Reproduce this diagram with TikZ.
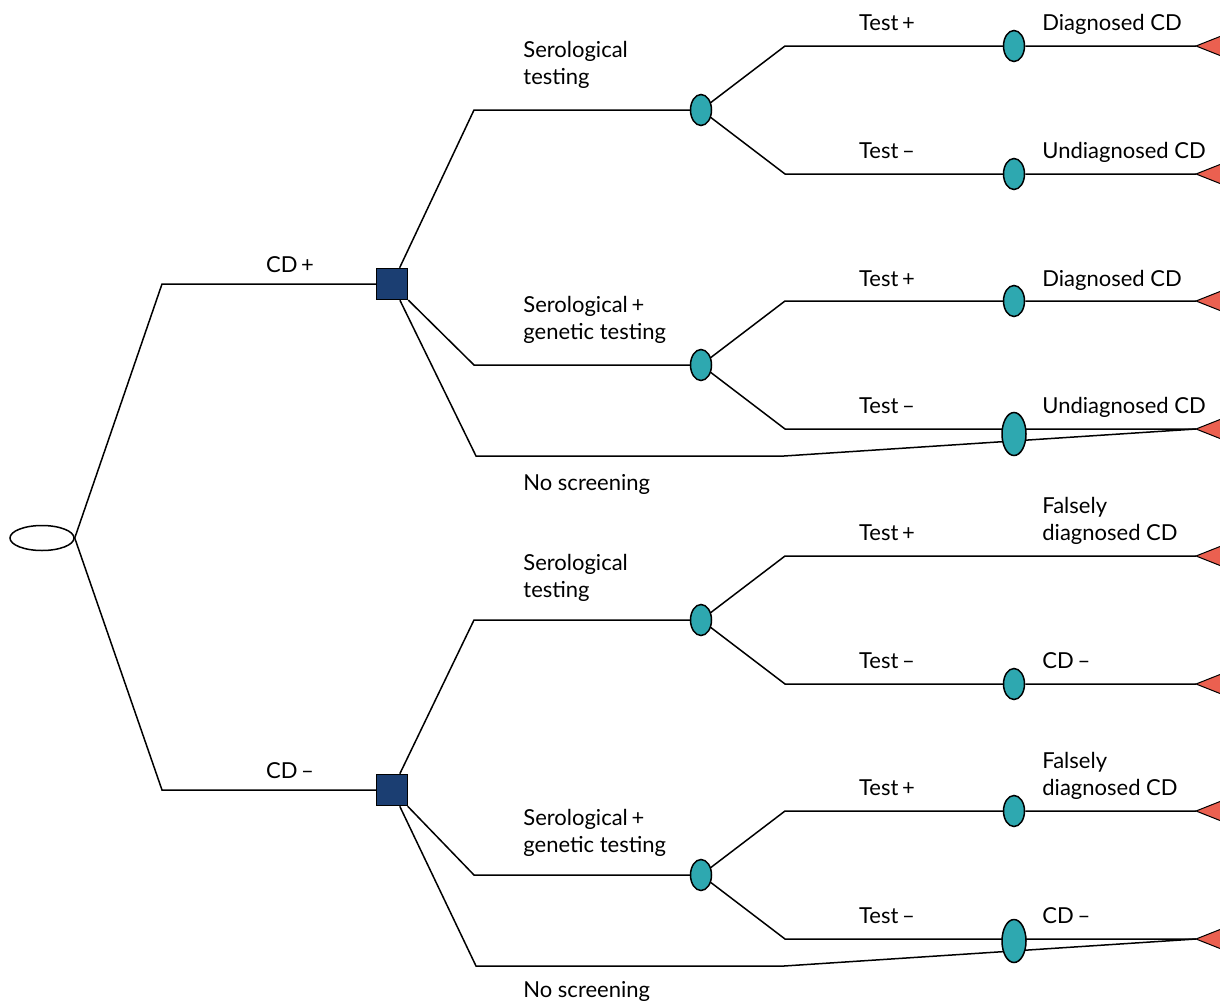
\documentclass[tikz,border=0pt]{standalone}
\usepackage{fontspec}
\setmainfont{Lato}
\usepackage{xcolor}
\usetikzlibrary{shapes.geometric}
\definecolor{chancecol}{HTML}{2EA8B0}
\definecolor{deccol}{HTML}{1B3E72}
\definecolor{payoffcol}{HTML}{EB6050}
\pgfdeclarelayer{bg}
\pgfsetlayers{bg,main}
\newcommand{\leaf}[2]{\coordinate (#1) at #2; \filldraw[fill=payoffcol,line width=0.5pt] (#1) -- ++(48,-19) -- ++(0,38) -- cycle;}
\newcommand{\pos}{\,+}
\newcommand{\nega}{\,\textendash}

\begin{document}
\begin{tikzpicture}[x=0.5pt,y=-0.5pt]
    \tikzset{startnode/.style={ellipse,draw,fill=white,line width=0.75pt,minimum width=32pt,minimum height=12.5pt,inner sep=0pt},
             decnode/.style={rectangle,draw,fill=deccol,line width=0.75pt,minimum size=15.5pt,inner sep=0pt},
             chnode/.style={ellipse,draw,fill=chancecol,line width=0.75pt,minimum width=10.5pt,minimum height=15.5pt,inner sep=0pt},
             bigch/.style={chnode,minimum width=12pt,minimum height=21.5pt},
             lbl/.style={font=\fontsize{11}{13.5}\selectfont,inner sep=0pt,anchor=base west,align=left},
             conn/.style={line width=0.75pt}}
    \useasboundingbox (0,0) rectangle (1220,1001);
    % decision and chance nodes
    \node[startnode] (start) at (42,538) {};
    \node[decnode] (cdpos) at (392,284) {};
    \node[decnode] (cdneg) at (392,790) {};
    \node[chnode] (serP) at (701,110) {};
    \node[chnode] (genP) at (701,365) {};
    \node[chnode] (serN) at (701,620) {};
    \node[chnode] (genN) at (701,875) {};
    \node[chnode] (serPpos) at (1014,46) {};
    \node[chnode] (serPneg) at (1014,174) {};
    \node[chnode] (genPpos) at (1014,301) {};
    \node[bigch] (genPneg) at (1014,434) {};
    \node[chnode] (serNneg) at (1014,684) {};
    \node[chnode] (genNpos) at (1014,811) {};
    \node[bigch] (genNneg) at (1014,941) {};
    % payoffs
    \leaf{tSerPpos}{(1196,46)}
    \leaf{tSerPneg}{(1196,174)}
    \leaf{tGenPpos}{(1196,301)}
    \leaf{tGenPneg}{(1196,429)}
    \leaf{tSerNpos}{(1196,556)}
    \leaf{tSerNneg}{(1196,684)}
    \leaf{tGenNpos}{(1196,811)}
    \leaf{tGenNneg}{(1196,939)}
    \begin{pgfonlayer}{bg}
    \draw[conn] (start.east) -- (162,284) -- (cdpos);
    \draw[conn] (start.east) -- (162,790) -- (cdneg);
    % CD+
    \draw[conn] (cdpos) -- (474,110) -- (serP);
    \draw[conn] (cdpos) -- (474,365) -- (genP);
    \draw[conn] (cdpos) -- (476,456) -- (784,456) -- (tGenPneg);
    \draw[conn] (serP) -- (785,46) -- (serPpos) -- (tSerPpos);
    \draw[conn] (serP) -- (785,174) -- (serPneg) -- (tSerPneg);
    \draw[conn] (genP) -- (785,301) -- (genPpos) -- (tGenPpos);
    \draw[conn] (genP) -- (785,429) -- (tGenPneg);
    % CD-
    \draw[conn] (cdneg) -- (474,620) -- (serN);
    \draw[conn] (cdneg) -- (474,875) -- (genN);
    \draw[conn] (cdneg) -- (476,966) -- (784,966) -- (tGenNneg);
    \draw[conn] (serN) -- (785,556) -- (tSerNpos);
    \draw[conn] (serN) -- (785,684) -- (serNneg) -- (tSerNneg);
    \draw[conn] (genN) -- (785,811) -- (genNpos) -- (tGenNpos);
    \draw[conn] (genN) -- (785,939) -- (tGenNneg);
    \end{pgfonlayer}
    % labels
    \node[lbl,anchor=base] (lCDpos) at (290,272) {CD\pos};
    \node[lbl,anchor=base] (lCDneg) at (290,778) {CD\nega};
    \node[lbl] (lSerP) at (523,84) {Serological\\testing};
    \node[lbl] (lGenP) at (523,339) {Serological\pos\\genetic testing};
    \node[lbl] (lNoP) at (523,490) {No screening};
    \node[lbl] (lSerN) at (523,597) {Serological\\testing};
    \node[lbl] (lGenN) at (523,852) {Serological\pos\\genetic testing};
    \node[lbl] (lNoN) at (523,997) {No screening};
    \node[lbl,anchor=base] at (887,31) {Test\pos};
    \node[lbl,anchor=base] at (887,158) {Test\nega};
    \node[lbl,anchor=base] at (887,286) {Test\pos};
    \node[lbl,anchor=base] at (887,413) {Test\nega};
    \node[lbl,anchor=base] at (887,540) {Test\pos};
    \node[lbl,anchor=base] at (887,668) {Test\nega};
    \node[lbl,anchor=base] at (887,795) {Test\pos};
    \node[lbl,anchor=base] at (887,923) {Test\nega};
    \node[lbl] at (1042,31) {Diagnosed CD};
    \node[lbl] at (1042,158) {Undiagnosed CD};
    \node[lbl] at (1042,286) {Diagnosed CD};
    \node[lbl] at (1042,413) {Undiagnosed CD};
    \node[lbl] at (1042,540) {Falsely\\diagnosed CD};
    \node[lbl] at (1042,668) {CD\nega};
    \node[lbl] at (1042,795) {Falsely\\diagnosed CD};
    \node[lbl] at (1042,923) {CD\nega};
\end{tikzpicture}
\end{document}
